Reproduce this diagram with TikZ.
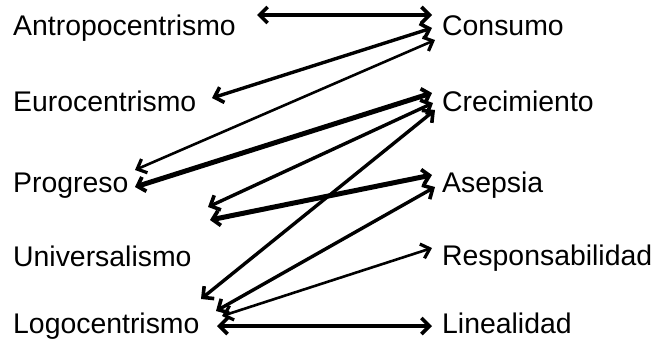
\documentclass[tikz,border=0pt]{standalone}
\usepackage{fontspec}
\setmainfont{Liberation Sans}
\usetikzlibrary{arrows.meta}
\begin{document}
\begin{tikzpicture}[x=1pt,y=-1pt,
  lbl/.style={anchor=base west,inner sep=0pt,font=\fontsize{28.4}{30}\selectfont},
  link/.style={line width=3.4pt,{Straight Barb[length=8pt,width=16pt,line width=3.6pt]}-{Straight Barb[length=8pt,width=16pt,line width=3.6pt]}},
  thinlink/.style={line width=2.6pt,{Straight Barb[length=8pt,width=15pt,line width=3.2pt]}-{Straight Barb[length=8pt,width=15pt,line width=3.2pt]}},
  thicklink/.style={line width=5pt,{Straight Barb[length=7pt,width=15pt,line width=3.8pt]}-{Straight Barb[length=7pt,width=15pt,line width=3.8pt]}}]
\useasboundingbox[fill=white] (0,0) rectangle (657,343);
% left column
\node[lbl] (antro) at (13,35) {Antropocentrismo};
\node[lbl] (euro)  at (13,111) {Eurocentrismo};
\node[lbl] (prog)  at (13,192) {Progreso};
\node[lbl] (univ)  at (13,266) {Universalismo};
\node[lbl] (logo)  at (13,333) {Logocentrismo};
% right column
\node[lbl] (cons)  at (442,35) {Consumo};
\node[lbl] (crec)  at (442,111) {Crecimiento};
\node[lbl] (asep)  at (442,192) {Asepsia};
\node[lbl] (resp)  at (442,265) {Responsabilidad};
\node[lbl] (line)  at (442,333) {Linealidad};
% connectors
\draw[link] ([shift={(244,-20)}]antro.base west) -- ([shift={(-10,-20)}]cons.base west);
\draw[link] ([shift={(199,-13)}]euro.base west) -- ([shift={(-10,-7)}]cons.base west);
\draw[thinlink] ([shift={(122,-22)}]prog.base west) -- ([shift={(-7,5)}]cons.base west);
\draw[thicklink] ([shift={(122,-5)}]prog.base west) -- ([shift={(-10,-18)}]crec.base west);
\draw[link] ([shift={(195,-59)}]univ.base west) -- ([shift={(-9,-8)}]crec.base west);
\draw[link] ([shift={(188,-34)}]logo.base west) -- ([shift={(-7,-1)}]crec.base west);
\draw[thicklink] ([shift={(197,-46)}]univ.base west) -- ([shift={(-10,-17)}]asep.base west);
\draw[link] ([shift={(203,-22)}]logo.base west) -- ([shift={(-7,-5)}]asep.base west);
\draw[thinlink] ([shift={(209,-17)}]logo.base west) -- ([shift={(-10,-17)}]resp.base west);
\draw[link] ([shift={(204,-7)}]logo.base west) -- ([shift={(-10,-7)}]line.base west);
\end{tikzpicture}
\end{document}
